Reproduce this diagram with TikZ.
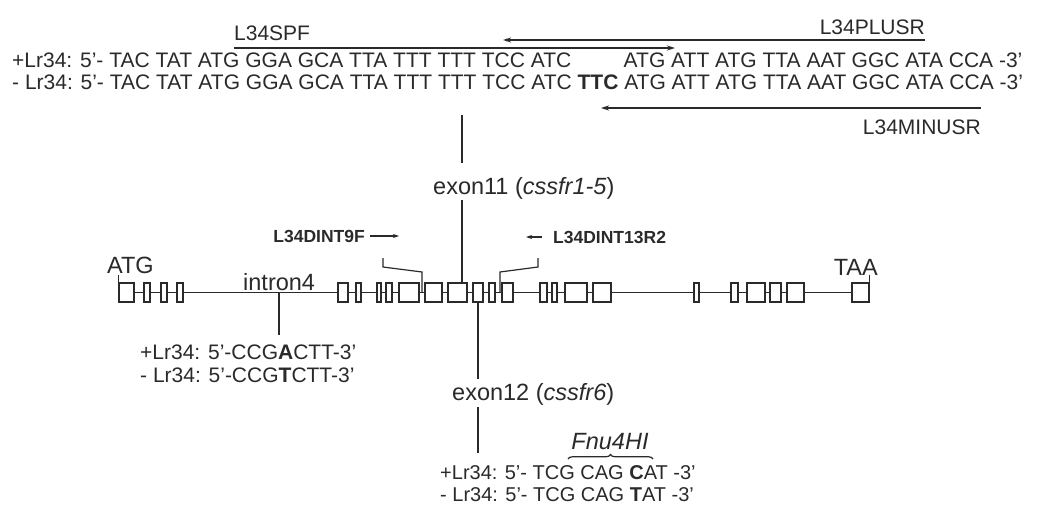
\documentclass[tikz,border=0pt]{standalone}
\usepackage{fontspec}
\setmainfont{Liberation Sans}
\usetikzlibrary{arrows.meta,decorations.pathreplacing}
\definecolor{ink}{HTML}{2A2A2A}
\begin{document}
\begin{tikzpicture}[x=1pt,y=-1pt,
  every node/.style={text=ink},
  seq/.style={font=\fontsize{21}{24}\selectfont, inner sep=0pt, anchor=base west},
  bseq/.style={font=\fontsize{20}{24}\selectfont, inner sep=0pt, anchor=base west},
  lbl/.style={font=\fontsize{21}{24}\selectfont, inner sep=0pt},
  glbl/.style={font=\fontsize{23.5}{26}\selectfont, inner sep=0pt},
  primer/.style={font=\fontsize{17.5}{20}\selectfont\bfseries, inner sep=0pt},
  exonbox/.style={draw=ink, line width=1.2pt, fill=white, inner sep=0pt, minimum height=19pt},
  ln/.style={draw=ink, line width=1.2pt},
  arr/.style={draw=ink, line width=1.4pt, -{Stealth[length=8pt,width=5pt]}},
  sarr/.style={draw=ink, line width=1.3pt, -{Stealth[length=6pt,width=4pt]}}
]
\useasboundingbox (0,0) rectangle (1062,506);
\fill[white] (0,0) rectangle (1062,506);

% ---------- top sequences ----------
\node[seq] (plus) at (12,67) {+Lr34: 5’- TAC TAT ATG GGA GCA TTA TTT TTT TCC ATC \phantom{\textbf{TTC}} ATG ATT ATG TTA AAT GGC ATA CCA -3’};
\node[seq] (minus) at (12,89) {- Lr34: 5’- TAC TAT ATG GGA GCA TTA TTT TTT TCC ATC \textbf{TTC} ATG ATT ATG TTA AAT GGC ATA CCA -3’};

% primers on top
\node[lbl, anchor=east] (plusr) at (925,27) {L34PLUSR};
\coordinate (plusrA) at (925,40);
\coordinate (plusrB) at (503,40);
\draw[arr] (plusrA) -- (plusrB);
\node[lbl, anchor=west] (spf) at (234,33) {L34SPF};
\coordinate (spfA) at (234,48);
\coordinate (spfB) at (675,48);
\draw[arr] (spfA) -- (spfB);
\node[lbl, anchor=east] (minusr) at (981,127) {L34MINUSR};
\coordinate (minusrA) at (981,108);
\coordinate (minusrB) at (601,108);
\draw[arr] (minusrA) -- (minusrB);

% ---------- gene model ----------
\foreach \a/\b [count=\i] in {119/134,144/150,161/167,177/183,338/348,356/361,377/381,386/392,399/419,425/442,448/467,473/483,489/495,502/513,540/547,552/557,565/587,593/611,694/699,731/738,747/765,770/781,787/804,852/869}{
  \node[exonbox, minimum width={\b-\a}] (e\i) at ({(\a+\b)/2},292.5) {};
}
\draw[ln] (e1.east) -- (e2.west) (e2.east) -- (e3.west) (e3.east) -- (e4.west) (e4.east) -- (e5.west)
  (e5.east) -- (e6.west) (e6.east) -- (e7.west) (e7.east) -- (e8.west) (e8.east) -- (e9.west)
  (e9.east) -- (e10.west) (e10.east) -- (e11.west) (e11.east) -- (e12.west) (e12.east) -- (e13.west)
  (e13.east) -- (e14.west) (e14.east) -- (e15.west) (e15.east) -- (e16.west) (e16.east) -- (e17.west)
  (e17.east) -- (e18.west) (e18.east) -- (e19.west) (e19.east) -- (e20.west) (e20.east) -- (e21.west)
  (e21.east) -- (e22.west) (e22.east) -- (e23.west) (e23.east) -- (e24.west);

% ATG / TAA
\node[glbl, anchor=base west] (atg) at (107,273) {ATG};
\draw[ln] (e1.north west) -- ++(0,-7);
\node[glbl, anchor=base east] (taa) at (878,275) {TAA};
\draw[ln] (e24.north east) -- ++(0,-7);

% intron4
\node[glbl, anchor=base west] (intron) at (243,290) {intron4};
\coordinate (i4top) at (279,292.5);
\coordinate (i4bot) at (279,335);
\draw[ln] (i4top) -- (i4bot);
\node[seq] (i4p) at (140,359) {+Lr34: 5’-CCG\textbf{A}CTT-3’};
\node[seq] (i4m) at (140,382) {- Lr34: 5’-CCG\textbf{T}CTT-3’};

% exon11
\coordinate (ex11top) at (462,115);
\coordinate (ex11mid) at (462,163);
\draw[ln] (ex11top) -- (ex11mid);
\node[glbl, anchor=base west] (ex11) at (433,194) {exon11 (\textit{cssfr1-5})};
\coordinate (ex11low) at (462,200);
\draw[ln] (ex11low) -- (e11.north -| ex11low);

% primers DINT
\node[primer, anchor=east] (dint9) at (365,236) {L34DINT9F};
\coordinate (d9a) at (370,236);
\coordinate (d9b) at (399,236);
\draw[sarr] (d9a) -- (d9b);
\node[primer, anchor=west] (dint13) at (553,237) {L34DINT13R2};
\coordinate (d13a) at (542,237);
\coordinate (d13b) at (526,237);
\draw[sarr] (d13a) -- (d13b);
\draw[ln] (383,258) -- (383,267) -- (422,272) -- (422,292.5);
\draw[ln] (538,258) -- (538,267) -- (500,272) -- (500,292.5);

% exon12
\coordinate (ex12bot) at (478,379);
\draw[ln] (e12.south -| ex12bot) -- (ex12bot);
\node[glbl, anchor=base west] (ex12) at (452,400) {exon12 (\textit{cssfr6})};
\coordinate (ex12c) at (478,407);
\coordinate (ex12d) at (478,453);
\draw[ln] (ex12c) -- (ex12d);

% Fnu4HI
\node[glbl, anchor=base] (fnu) at (610,449) {\textit{Fnu4HI}};
\draw[ln, decorate, decoration={brace, amplitude=4.5pt}] (568,459) -- (653,459);

\node[bseq] (b1) at (440,479) {+Lr34: 5’- TCG CAG \textbf{C}AT -3’};
\node[bseq] (b2) at (440,501) {- Lr34: 5’- TCG CAG \textbf{T}AT -3’};
\end{tikzpicture}
\end{document}
